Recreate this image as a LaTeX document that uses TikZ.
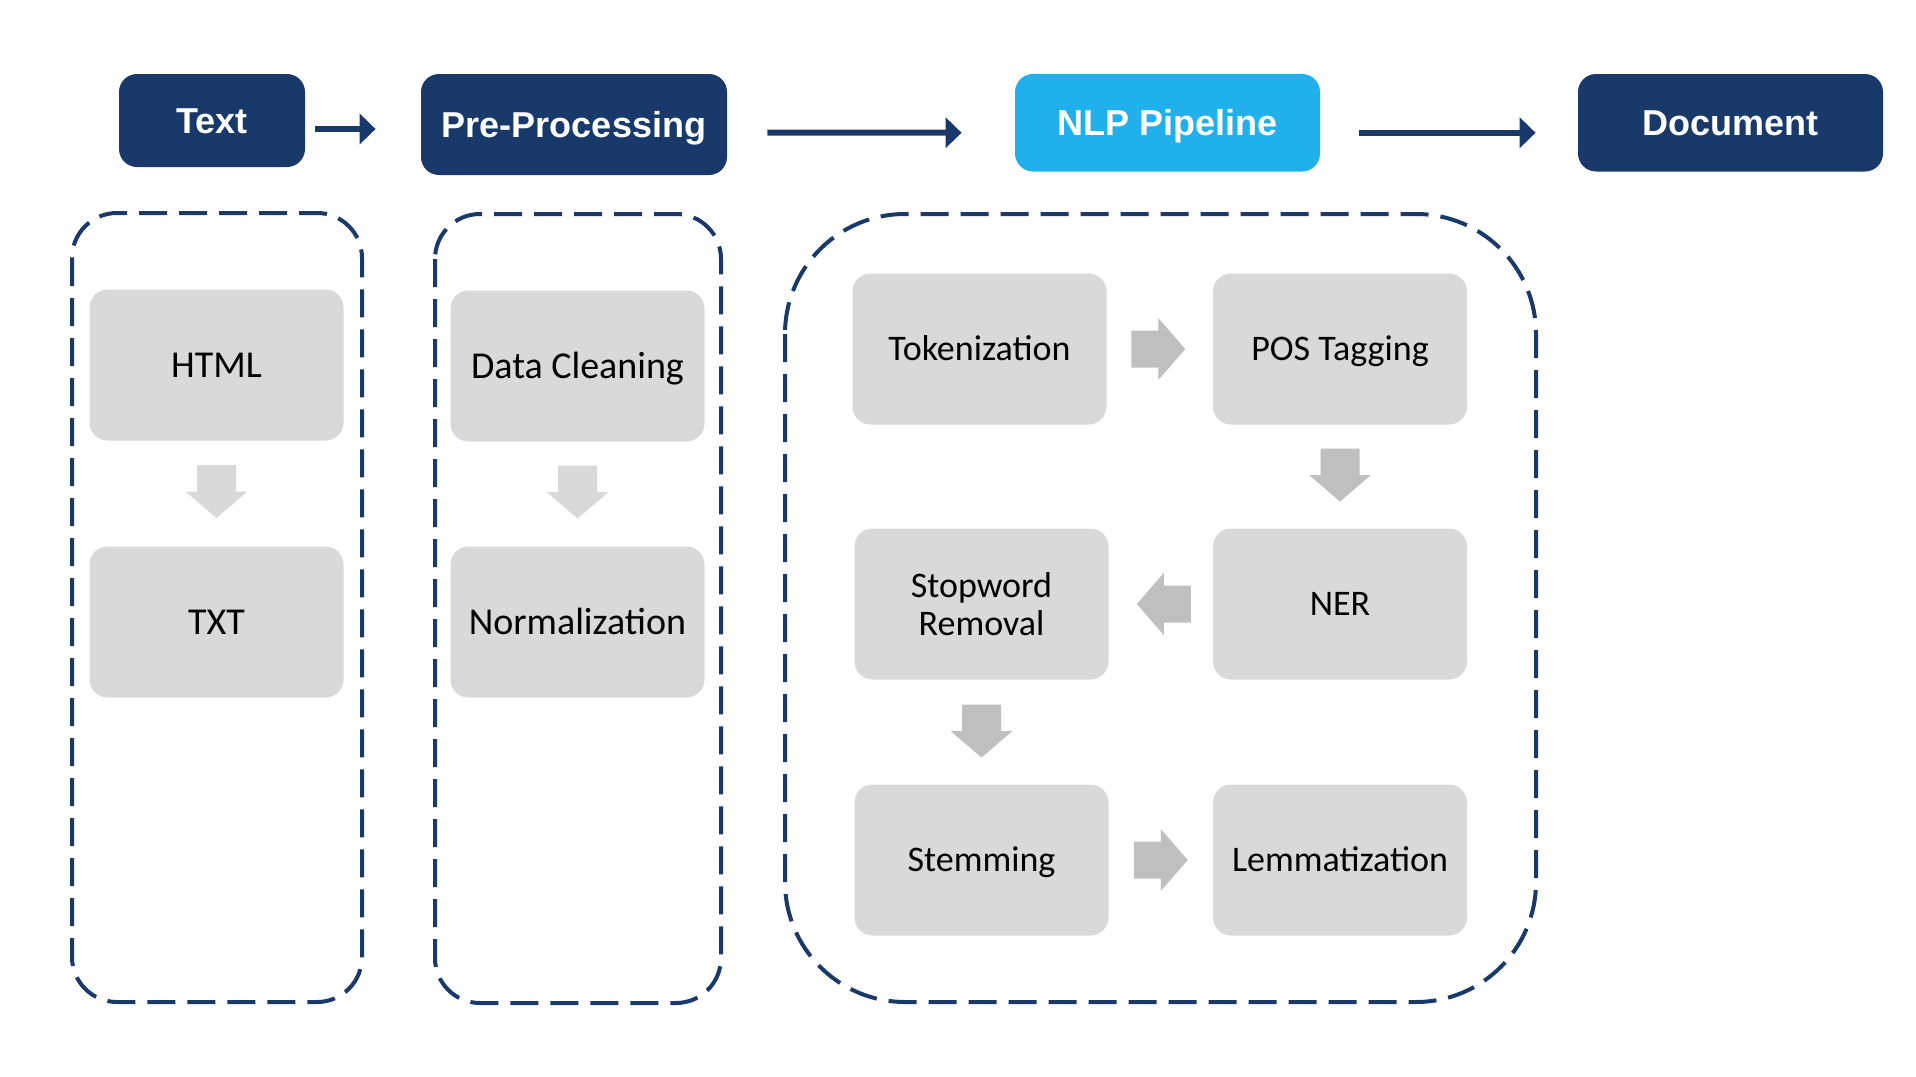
\documentclass[tikz,border=0pt]{standalone}
\usepackage{fontspec}
\setmainfont{Carlito}
\newfontfamily\hdrfont{Liberation Sans}
\usetikzlibrary{arrows.meta,calc}
\definecolor{navy}{RGB}{25,57,107}
\definecolor{skyb}{RGB}{32,177,236}
\definecolor{boxgray}{RGB}{217,217,217}
\definecolor{arrgray}{RGB}{191,191,191}
\tikzset{
  hdr/.style={rounded corners=9pt, fill=navy, text=white, inner sep=0pt,
    text height=12.9pt, text depth=0pt,
    font=\hdrfont\bfseries\fontsize{18}{20}\selectfont},
  gboxbase/.style={rounded corners=9pt, fill=boxgray, inner sep=0pt, align=center,
    minimum width=127pt, minimum height=75.5pt, font=\fontsize{18}{18.9}\selectfont},
  gbox/.style={gboxbase, text height=11.6pt, text depth=0pt},
  gboxl/.style={gboxbase, text height=12.2pt, text depth=0pt, font=\fontsize{19}{20}\selectfont},
  group/.style={draw=navy, line width=2pt, dash pattern=on 14pt off 6pt},
  flow/.style={draw=navy, line width=3pt, -{Triangle[length=8pt,width=15pt]}},
  pics/darrow/.style={code={
    \fill[#1] (-19.5,-26.5) -- (19.5,-26.5) -- (19.5,0) -- (31,0) -- (0,26.5)
      -- (-31,0) -- (-19.5,0) -- cycle;}},
  pics/rarrow/.style={code={
    \fill[#1] (-27,-18.5) -- (0,-18.5) -- (0,-31) -- (27,0) -- (0,31)
      -- (0,18.5) -- (-27,18.5) -- cycle;}}
}
\begin{document}
\begin{tikzpicture}[x=0.5pt,y=-0.5pt]
\useasboundingbox (0,0) rectangle (1916,1076);

% dashed group frames
\draw[group, rounded corners=22.5pt] (72,213) rectangle (362,1002);
\draw[group, rounded corners=22.5pt] (435,214) rectangle (721,1003);
\draw[group, rounded corners=60pt] (785,214) rectangle (1536,1002);

% header nodes
\node[hdr, minimum width=93pt, minimum height=46.5pt] (text) at (212,120.5) {Text};
\node[hdr, minimum width=153pt, minimum height=50.5pt] (pre) at (574,124.5) {Pre-Processing};
\node[hdr, fill=skyb, minimum width=152.5pt, minimum height=48.75pt] (nlp) at (1167.5,122.75) {NLP Pipeline};
\node[hdr, minimum width=152.5pt, minimum height=48.75pt] (doc) at (1730.5,122.75) {Document};

% header arrows
\coordinate (a1s) at ($(text.east)+(10,8.5)$);
\coordinate (a1e) at ($(pre.west)+(-45,4.5)$);
\coordinate (a2s) at ($(pre.east)+(40,8)$);
\coordinate (a2e) at ($(nlp.west)+(-53,10)$);
\coordinate (a3s) at ($(nlp.east)+(39,10)$);
\coordinate (a3e) at ($(doc.west)+(-42,10)$);
\draw[flow] (a1s) -- (a1e);
\draw[flow] (a2s) -- (a2e);
\draw[flow] (a3s) -- (a3e);

% column 1
\node[gboxl] (html) at (216.5,365) {HTML};
\node[gboxl] (txt) at (216.5,622) {TXT};
\pic at ($(html.south)!0.5!(txt.north)+(0,-2)$) {darrow=boxgray};

% column 2
\node[gboxl] (dc) at (577.5,366) {Data Cleaning};
\node[gboxl] (norm) at (577.5,622) {Normalization};
\pic at ($(dc.south)!0.5!(norm.north)+(0,-2)$) {darrow=boxgray};

% NLP pipeline
\node[gbox] (tok) at (979.5,349) {Tokenization};
\node[gbox] (pos) at (1340,349) {POS Tagging};
\node[gboxbase] (stop) at (981.5,604) {Stopword\\Removal};
\node[gbox] (ner) at (1340,604) {NER};
\node[gbox] (stem) at (981.5,860) {Stemming};
\node[gbox] (lem) at (1340,860) {Lemmatization};

\pic at ($(tok.east)!0.5!(pos.west)+(-1.5,0)$) {rarrow=arrgray};
\pic at ($(pos.south)!0.5!(ner.north)+(0,-1.5)$) {darrow=arrgray};
\pic[xscale=-1] at ($(ner.west)!0.5!(stop.east)+(3,0)$) {rarrow=arrgray};
\pic at ($(stop.south)!0.5!(stem.north)+(0,-1)$) {darrow=arrgray};
\pic at ($(stem.east)!0.5!(lem.west)$) {rarrow=arrgray};
\end{tikzpicture}
\end{document}
